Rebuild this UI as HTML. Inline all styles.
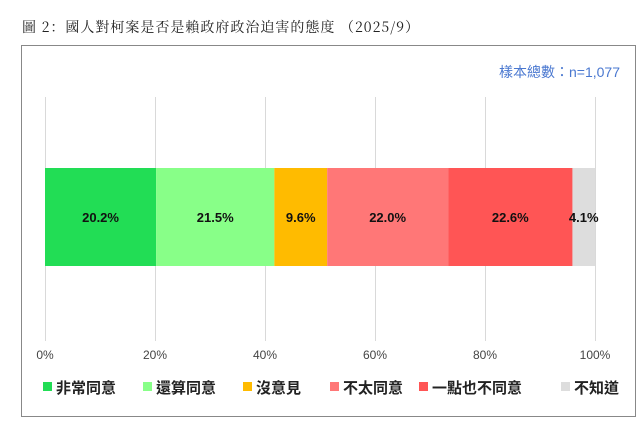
<!DOCTYPE html>
<html><head><meta charset="utf-8"><style>
body{margin:0;background:#fff;width:642px;height:432px;overflow:hidden;font-family:"Liberation Sans","Noto Sans CJK TC",sans-serif}
</style></head><body>
<svg width="642" height="432" xmlns="http://www.w3.org/2000/svg">
<text x="22" y="32" font-family="'Noto Serif CJK SC','Liberation Serif',serif" font-size="14" letter-spacing="1" fill="#222">圖 2：國人對柯案是否是賴政府政治迫害的態度 （2025/9）</text>
<rect x="21.5" y="45.5" width="614" height="371" fill="#fff" stroke="#888"/>
<text x="620" y="77" text-anchor="end" font-size="14" fill="#4a78d0" font-family="'Liberation Sans','Noto Sans CJK TC',sans-serif">樣本總數：n=1,077</text>
<g id="grid"></g><g id="bars"></g><g id="ticks"></g><g id="legend"></g>
</svg>
<script>
const categories=["非常同意","還算同意","沒意見","不太同意","一點也不同意","不知道"];
const values=[20.2,21.5,9.6,22.0,22.6,4.1];
const colors=["#22dd55","#88ff88","#ffbb00","#ff7777","#ff5555","#dddddd"];
const tickLabels=["0%","20%","40%","60%","80%","100%"];
const tickValues=[0,20,40,60,80,100];
const NS="http://www.w3.org/2000/svg";
const x=v=>45+v*5.5;
function mk(t,a,p){const e=document.createElementNS(NS,t);for(const k in a)e.setAttribute(k,a[k]);p.appendChild(e);return e;}
const grid=document.getElementById('grid'),bars=document.getElementById('bars'),ticks=document.getElementById('ticks'),legend=document.getElementById('legend');
tickValues.forEach((v,i)=>{
 const l=mk('line',{x1:x(v)+0.5,x2:x(v)+0.5,y1:97,y2:341,stroke:'#d9d9d9'},grid);
 
 
 const t=mk('text',{x:x(v),y:359,'text-anchor':'middle','font-size':12,fill:'#444'},ticks);
 t.textContent=tickLabels[i];
 
 
});
let acc=0;
values.forEach((v,i)=>{
 const r=mk('rect',{x:x(acc),y:168,width:x(acc+v)-x(acc),height:98,fill:colors[i]},bars);
 
 
 const t=mk('text',{x:(x(acc)+x(acc+v))/2,y:222,'text-anchor':'middle','font-size':13,'font-weight':'bold',fill:'#111'},bars);
 t.textContent=v.toFixed(1)+'%';
 
 
 acc+=v;
});
const lx=[43,143,243,330,419,561];
categories.forEach((c,i)=>{
 const g=mk('g',{},legend);
 
 
 mk('rect',{x:lx[i],y:382,width:9,height:9,fill:colors[i]},g);
 const t=mk('text',{x:lx[i]+13,y:393,'font-size':15,'font-weight':'bold',fill:'#222'},g);
 t.textContent=c;
});
</script>
</body></html>
